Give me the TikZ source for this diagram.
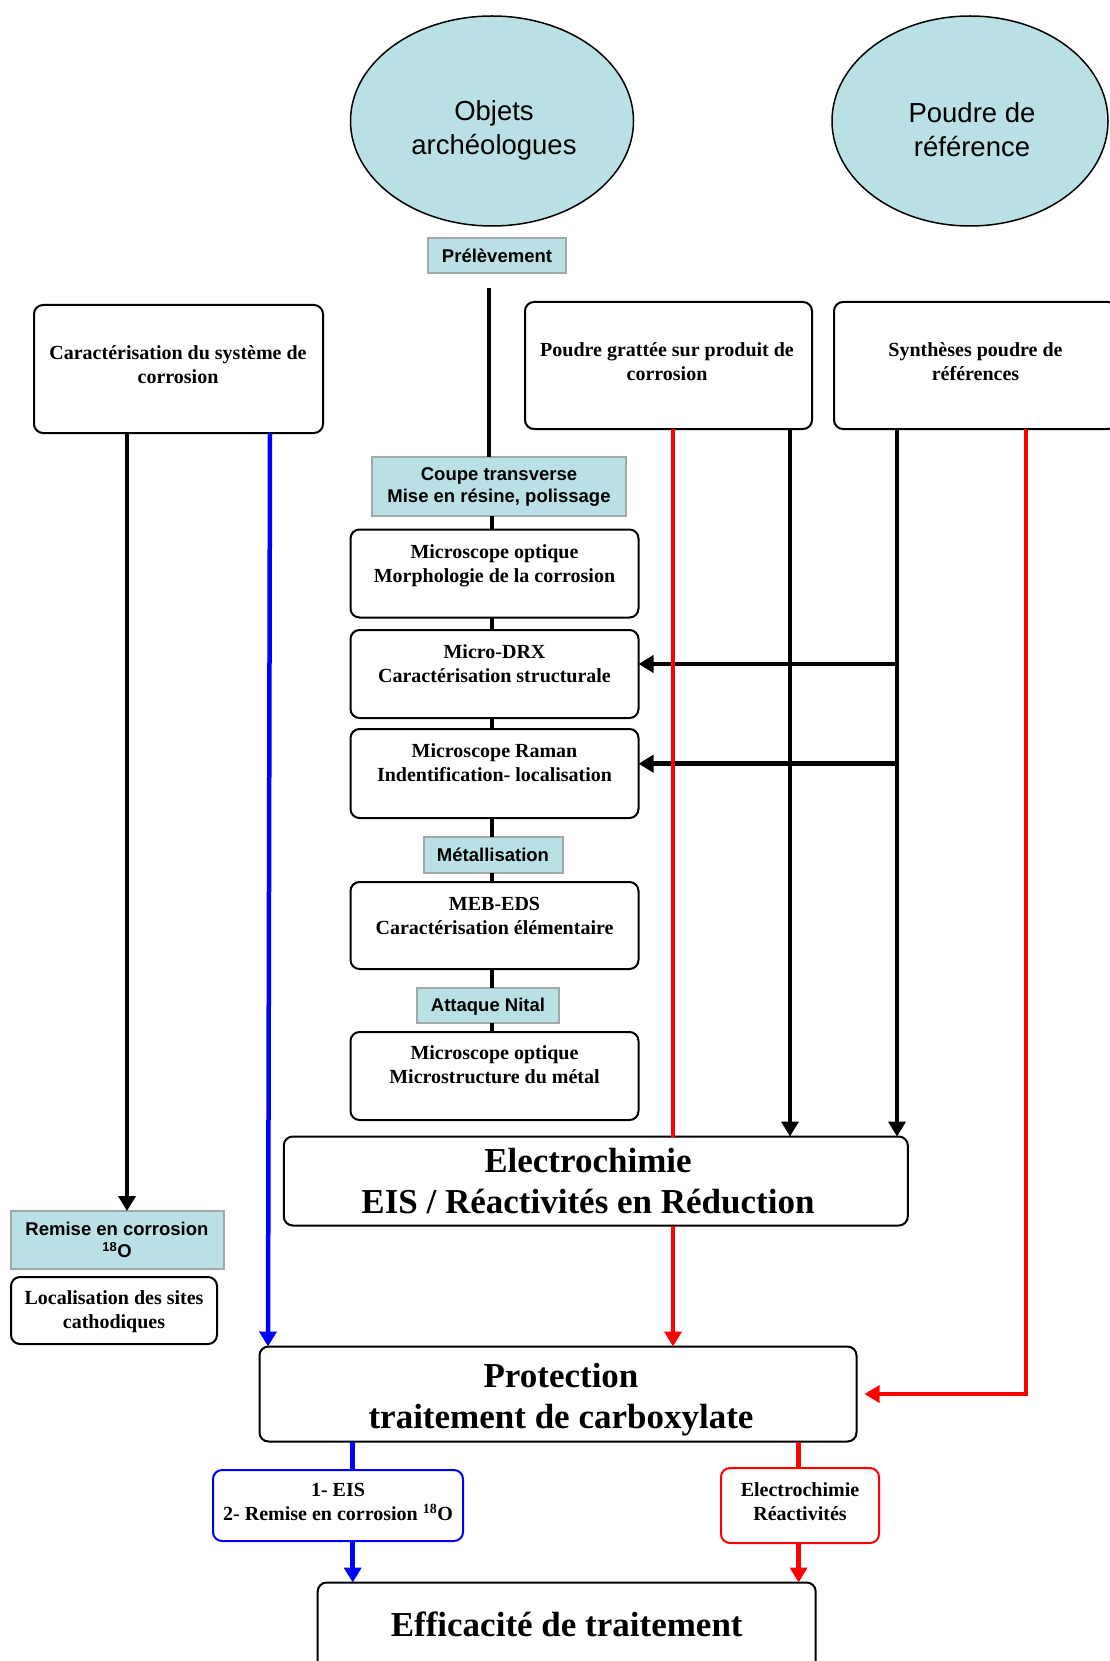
\documentclass[tikz,border=0pt]{standalone}
\usepackage{fontspec}
\setmainfont{Liberation Serif}
\newfontfamily\sansf{Liberation Sans}
\usetikzlibrary{shapes.geometric,arrows.meta}
\definecolor{tealfill}{RGB}{185,224,228}
\definecolor{tealborder}{RGB}{160,168,168}
\definecolor{myblue}{RGB}{0,0,255}
\definecolor{myred}{RGB}{255,0,0}
\begin{document}
\begin{tikzpicture}[x=1pt,y=-1pt,
  box/.style={draw=black, line width=2pt, rounded corners=9pt, fill=white, inner sep=0pt, outer sep=0pt},
  tbox/.style={draw=tealborder, line width=2pt, fill=tealfill, inner sep=0pt, outer sep=0pt, align=center, font=\sansf\bfseries\fontsize{18.5}{22}\selectfont},
  ell/.style={ellipse, draw=black, line width=1.5pt, fill=tealfill, inner sep=0pt, outer sep=0pt},
  txt/.style={align=center, inner sep=0pt, font=\bfseries\fontsize{20}{24}\selectfont},
  bigtxt/.style={align=center, inner sep=0pt, font=\bfseries\fontsize{35}{41}\selectfont},
  etxt/.style={align=center, inner sep=0pt, font=\sansf\fontsize{27.5}{34}\selectfont},
  conn/.style={line width=4.5pt},
  arr/.style={-{Triangle[length=15pt,width=17pt]}},
]
\useasboundingbox (0,0) rectangle (1109,1661);

% ellipses
\node[ell, minimum width=283pt, minimum height=210pt] (obj) at (492,121) {};
\node[etxt] (objt) at (494,130) {Objets\\archéologues};
\node[ell, minimum width=276pt, minimum height=210pt] (pdr) at (970,121) {};
\node[etxt] (pdrt) at (972,130) {Poudre de\\référence};

% teal labels
\node[tbox, minimum width=138pt, minimum height=35pt] (pre) at (497,255.5) {Prélèvement};
\node[tbox, minimum width=254pt, minimum height=59pt] (coupe) at (499,486.5) {Coupe transverse\\Mise en résine, polissage};
\node[tbox, minimum width=139pt, minimum height=36pt] (met) at (493,855) {Métallisation};
\node[tbox, minimum width=142pt, minimum height=35pt, text depth=0pt] (att) at (488,1005) {Attaque Nital};
\node[tbox, minimum width=213pt, minimum height=58pt] (remise) at (117,1240) {Remise en corrosion\\\textsuperscript{18}O};

% top boxes
\node[box, minimum width=289pt, minimum height=128pt] (carac) at (178.5,369) {};
\node[txt] (caract) at (178,365) {Caractérisation du système de\\corrosion};
\node[box, minimum width=287pt, minimum height=127pt] (poudre) at (668.5,365.5) {};
\node[txt] (poudret) at (667,362) {Poudre grattée sur produit de\\corrosion};
\node[box, minimum width=283pt, minimum height=127pt] (synth) at (975.5,365.5) {};
\node[txt] (syntht) at (975.5,362) {Synthèses poudre de\\références};

% central column
\node[box, minimum width=288pt, minimum height=88pt] (mo1) at (494.5,573.5) {};
\node[txt] (mo1t) at (494.5,565.5) {Microscope optique\\Morphologie de la corrosion};
\node[box, minimum width=288pt, minimum height=88pt] (drx) at (494.5,674) {};
\node[txt] (drxt) at (494.5,664) {Micro-DRX\\Caractérisation structurale};
\node[box, minimum width=288pt, minimum height=89pt] (ram) at (494.5,773.5) {};
\node[txt] (ramt) at (494.5,762.5) {Microscope Raman\\Indentification- localisation};
\node[box, minimum width=288pt, minimum height=87pt] (meb) at (494.5,925.5) {};
\node[txt] (mebt) at (494.5,915.5) {MEB-EDS\\Caractérisation élémentaire};
\node[box, minimum width=288pt, minimum height=88pt] (mo2) at (494.5,1076) {};
\node[txt] (mo2t) at (494.5,1064.5) {Microscope optique\\Microstructure du métal};

% lower boxes
\node[box, minimum width=206pt, minimum height=67pt] (local) at (114,1310.5) {};
\node[txt] (localt) at (114,1311.5) {Localisation des sites\\cathodiques};
\node[box, minimum width=624pt, minimum height=89pt] (elec) at (595.8,1181) {};
\node[bigtxt] (elect) at (588,1181) {Electrochimie\\EIS / Réactivités en Réduction};
\node[box, minimum width=597pt, minimum height=95pt] (prot) at (558,1394) {};
\node[bigtxt] (prott) at (561,1400) {Protection\\traitement de carboxylate};
\node[box, draw=myblue, minimum width=250pt, minimum height=71pt] (bluebox) at (338,1505.5) {};
\node[txt] (blueboxt) at (338,1502) {1- EIS\\2- Remise en corrosion \textsuperscript{18}O};
\node[box, draw=myred, minimum width=158pt, minimum height=75pt] (redbox) at (800,1505.5) {};
\node[txt] (redboxt) at (800,1502) {Electrochimie\\Réactivités};
\node[box, minimum width=498pt, minimum height=120pt] (eff) at (566.7,1642.5) {};
\node[bigtxt] (efft) at (566.7,1624) {Efficacité de traitement};

% coordinates for vertical lines
\coordinate (p1) at (489,288);
\coordinate (sp) at (492,0);
\coordinate (cx) at (127,0);
\coordinate (blx1) at (270,0);
\coordinate (blx2) at (268,0);
\coordinate (bkx) at (790,0);
\coordinate (skx) at (897,0);
\coordinate (rx) at (673,0);
\coordinate (rx2) at (1026,0);
\coordinate (bx) at (352.7,0);
\coordinate (rrx) at (798.6,0);
\coordinate (h1) at (897,664);
\coordinate (h2) at (897,763.7);

% black connectors
\draw[conn] (p1) -- (p1 |- coupe.north);
\draw[conn] (sp |- coupe.south) -- (sp |- mo1.north);
\draw[conn] (sp |- mo1.south) -- (sp |- drx.north);
\draw[conn] (sp |- drx.south) -- (sp |- ram.north);
\draw[conn] (sp |- ram.south) -- (sp |- met.north);
\draw[conn] (sp |- met.south) -- (sp |- meb.north);
\draw[conn] (sp |- meb.south) -- (sp |- att.north);
\draw[conn] (sp |- att.south) -- (sp |- mo2.north);
\draw[conn,arr] (cx |- carac.south) -- (cx |- remise.north);
\draw[conn,arr] (bkx |- poudre.south) -- (bkx |- elec.north);
\draw[conn,arr] (skx |- synth.south) -- (skx |- elec.north);
\draw[conn,arr] (h1) -- (h1 -| drx.east);
\draw[conn,arr] (h2) -- (h2 -| ram.east);

% blue connectors
\draw[conn,myblue,arr] (blx1 |- carac.south) -- (blx2 |- prot.north);
\draw[conn,myblue] (bx |- prot.south) -- (bx |- bluebox.north);
\draw[conn,myblue,arr] (bx |- bluebox.south) -- (bx |- eff.north);

% red connectors
\draw[conn,myred] (rx |- poudre.south) -- (rx |- elec.north);
\draw[conn,myred,arr] (rx |- elec.south) -- (rx |- prot.north);
\draw[conn,myred,arr,shorten >=8pt] (rx2 |- synth.south) |- (prot.east);
\draw[conn,myred] (rrx |- prot.south) -- (rrx |- redbox.north);
\draw[conn,myred,arr] (rrx |- redbox.south) -- (rrx |- eff.north);
\end{tikzpicture}
\end{document}
